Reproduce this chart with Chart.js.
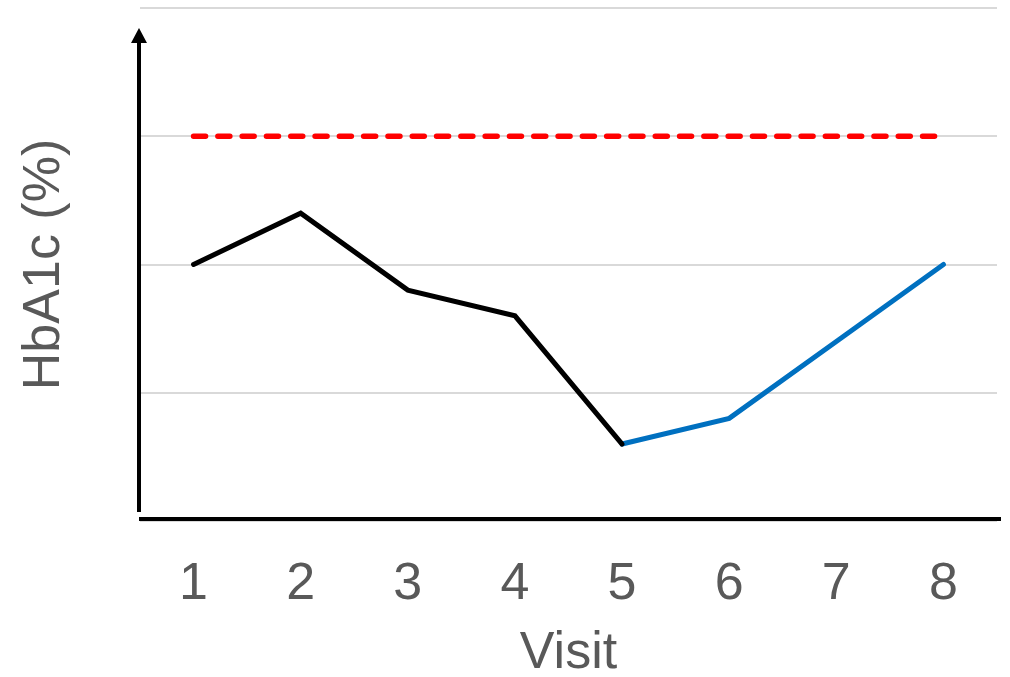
<!DOCTYPE html>
<html>
<head>
<meta charset="utf-8">
<script src="https://cdn.jsdelivr.net/npm/chart.js@4/dist/chart.umd.min.js"></script>
<style>
  html, body { margin: 0; padding: 0; background: #ffffff; }
  #wrap { width: 1010px; height: 677px; }
</style>
</head>
<body>
<div id="wrap"><canvas id="c" width="1010" height="677"></canvas></div>
<script>
// Visits along the x axis
const visits = ['1', '2', '3', '4', '5', '6', '7', '8'];
// HbA1c readings before the change (visits 1-5)
const hba1cBefore = [2.0, 2.4, 1.8, 1.6, 0.6, null, null, null];
// HbA1c readings after the change (visits 5-8)
const hba1cAfter = [null, null, null, null, 0.6, 0.8, 1.4, 2.0];
// Target threshold, constant across all visits
const target = [3, 3, 3, 3, 3, 3, 3, 3];
// Value range of the y axis (gridlines every unit)
const yMin = 0, yMax = 4;

const textColor = '#595959';
const fontFamily = '"Liberation Sans", Arial, sans-serif';

// Draws the black axis lines, with an arrow head on the y axis
const axesPlugin = {
  id: 'arrowAxes',
  afterDraw(chart) {
    const { ctx, chartArea } = chart;
    const x0 = chartArea.left - 1;
    const yBase = chartArea.bottom - 2;
    ctx.save();
    ctx.strokeStyle = '#000000';
    ctx.fillStyle = '#000000';
    ctx.lineWidth = 4;
    ctx.lineCap = 'butt';
    // x axis
    ctx.beginPath();
    ctx.moveTo(x0, yBase);
    ctx.lineTo(chartArea.right + 4, yBase);
    ctx.stroke();
    // y axis
    const arrowTip = chartArea.top + 20;
    ctx.beginPath();
    ctx.moveTo(x0, yBase - 7);
    ctx.lineTo(x0, arrowTip + 14);
    ctx.stroke();
    ctx.beginPath();
    ctx.moveTo(x0, arrowTip);
    ctx.lineTo(x0 + 8, arrowTip + 15);
    ctx.lineTo(x0 - 8, arrowTip + 15);
    ctx.closePath();
    ctx.fill();
    ctx.restore();
  }
};

new Chart(document.getElementById('c'), {
  type: 'line',
  data: {
    labels: visits,
    datasets: [
      {
        label: 'Target',
        data: target,
        borderColor: '#ff0000',
        borderWidth: 5.5,
        borderDash: [12, 12.3],
        borderCapStyle: 'round',
        pointRadius: 0,
        fill: false
      },
      {
        label: 'Before',
        data: hba1cBefore,
        borderColor: '#000000',
        borderWidth: 5,
        borderCapStyle: 'round',
        borderJoinStyle: 'miter',
        pointRadius: 0,
        spanGaps: false,
        fill: false
      },
      {
        label: 'After',
        data: hba1cAfter,
        borderColor: '#0070c0',
        borderWidth: 5,
        borderCapStyle: 'round',
        borderJoinStyle: 'miter',
        pointRadius: 0,
        spanGaps: false,
        fill: false
      }
    ]
  },
  options: {
    responsive: false,
    animation: false,
    events: [],
    layout: { padding: { top: 8, right: 13, bottom: 0, left: 0 } },
    plugins: {
      legend: { display: false },
      tooltip: { enabled: false }
    },
    scales: {
      x: {
        type: 'category',
        offset: true,
        grid: { display: false, drawTicks: false },
        border: { display: false },
        ticks: {
          color: textColor,
          padding: 32,
          maxRotation: 0,
          font: { family: fontFamily, size: 52 }
        },
        title: {
          display: true,
          text: 'Visit',
          color: textColor,
          padding: { top: 0, bottom: 0 },
          font: { family: fontFamily, size: 52, lineHeight: 0.9 }
        },
        afterFit(scale) { scale.height = 156; }
      },
      y: {
        min: yMin,
        max: yMax,
        ticks: { display: false, stepSize: 1 },
        grid: { color: '#d9d9d9', lineWidth: 2, drawTicks: false },
        border: { display: false },
        title: {
          display: true,
          text: 'HbA1c (%)',
          color: textColor,
          padding: { top: 19, bottom: 0 },
          font: { family: fontFamily, size: 52, lineHeight: 1 }
        },
        afterFit(scale) { scale.width = 140; }
      }
    }
  },
  plugins: [axesPlugin]
});
</script>
</body>
</html>
